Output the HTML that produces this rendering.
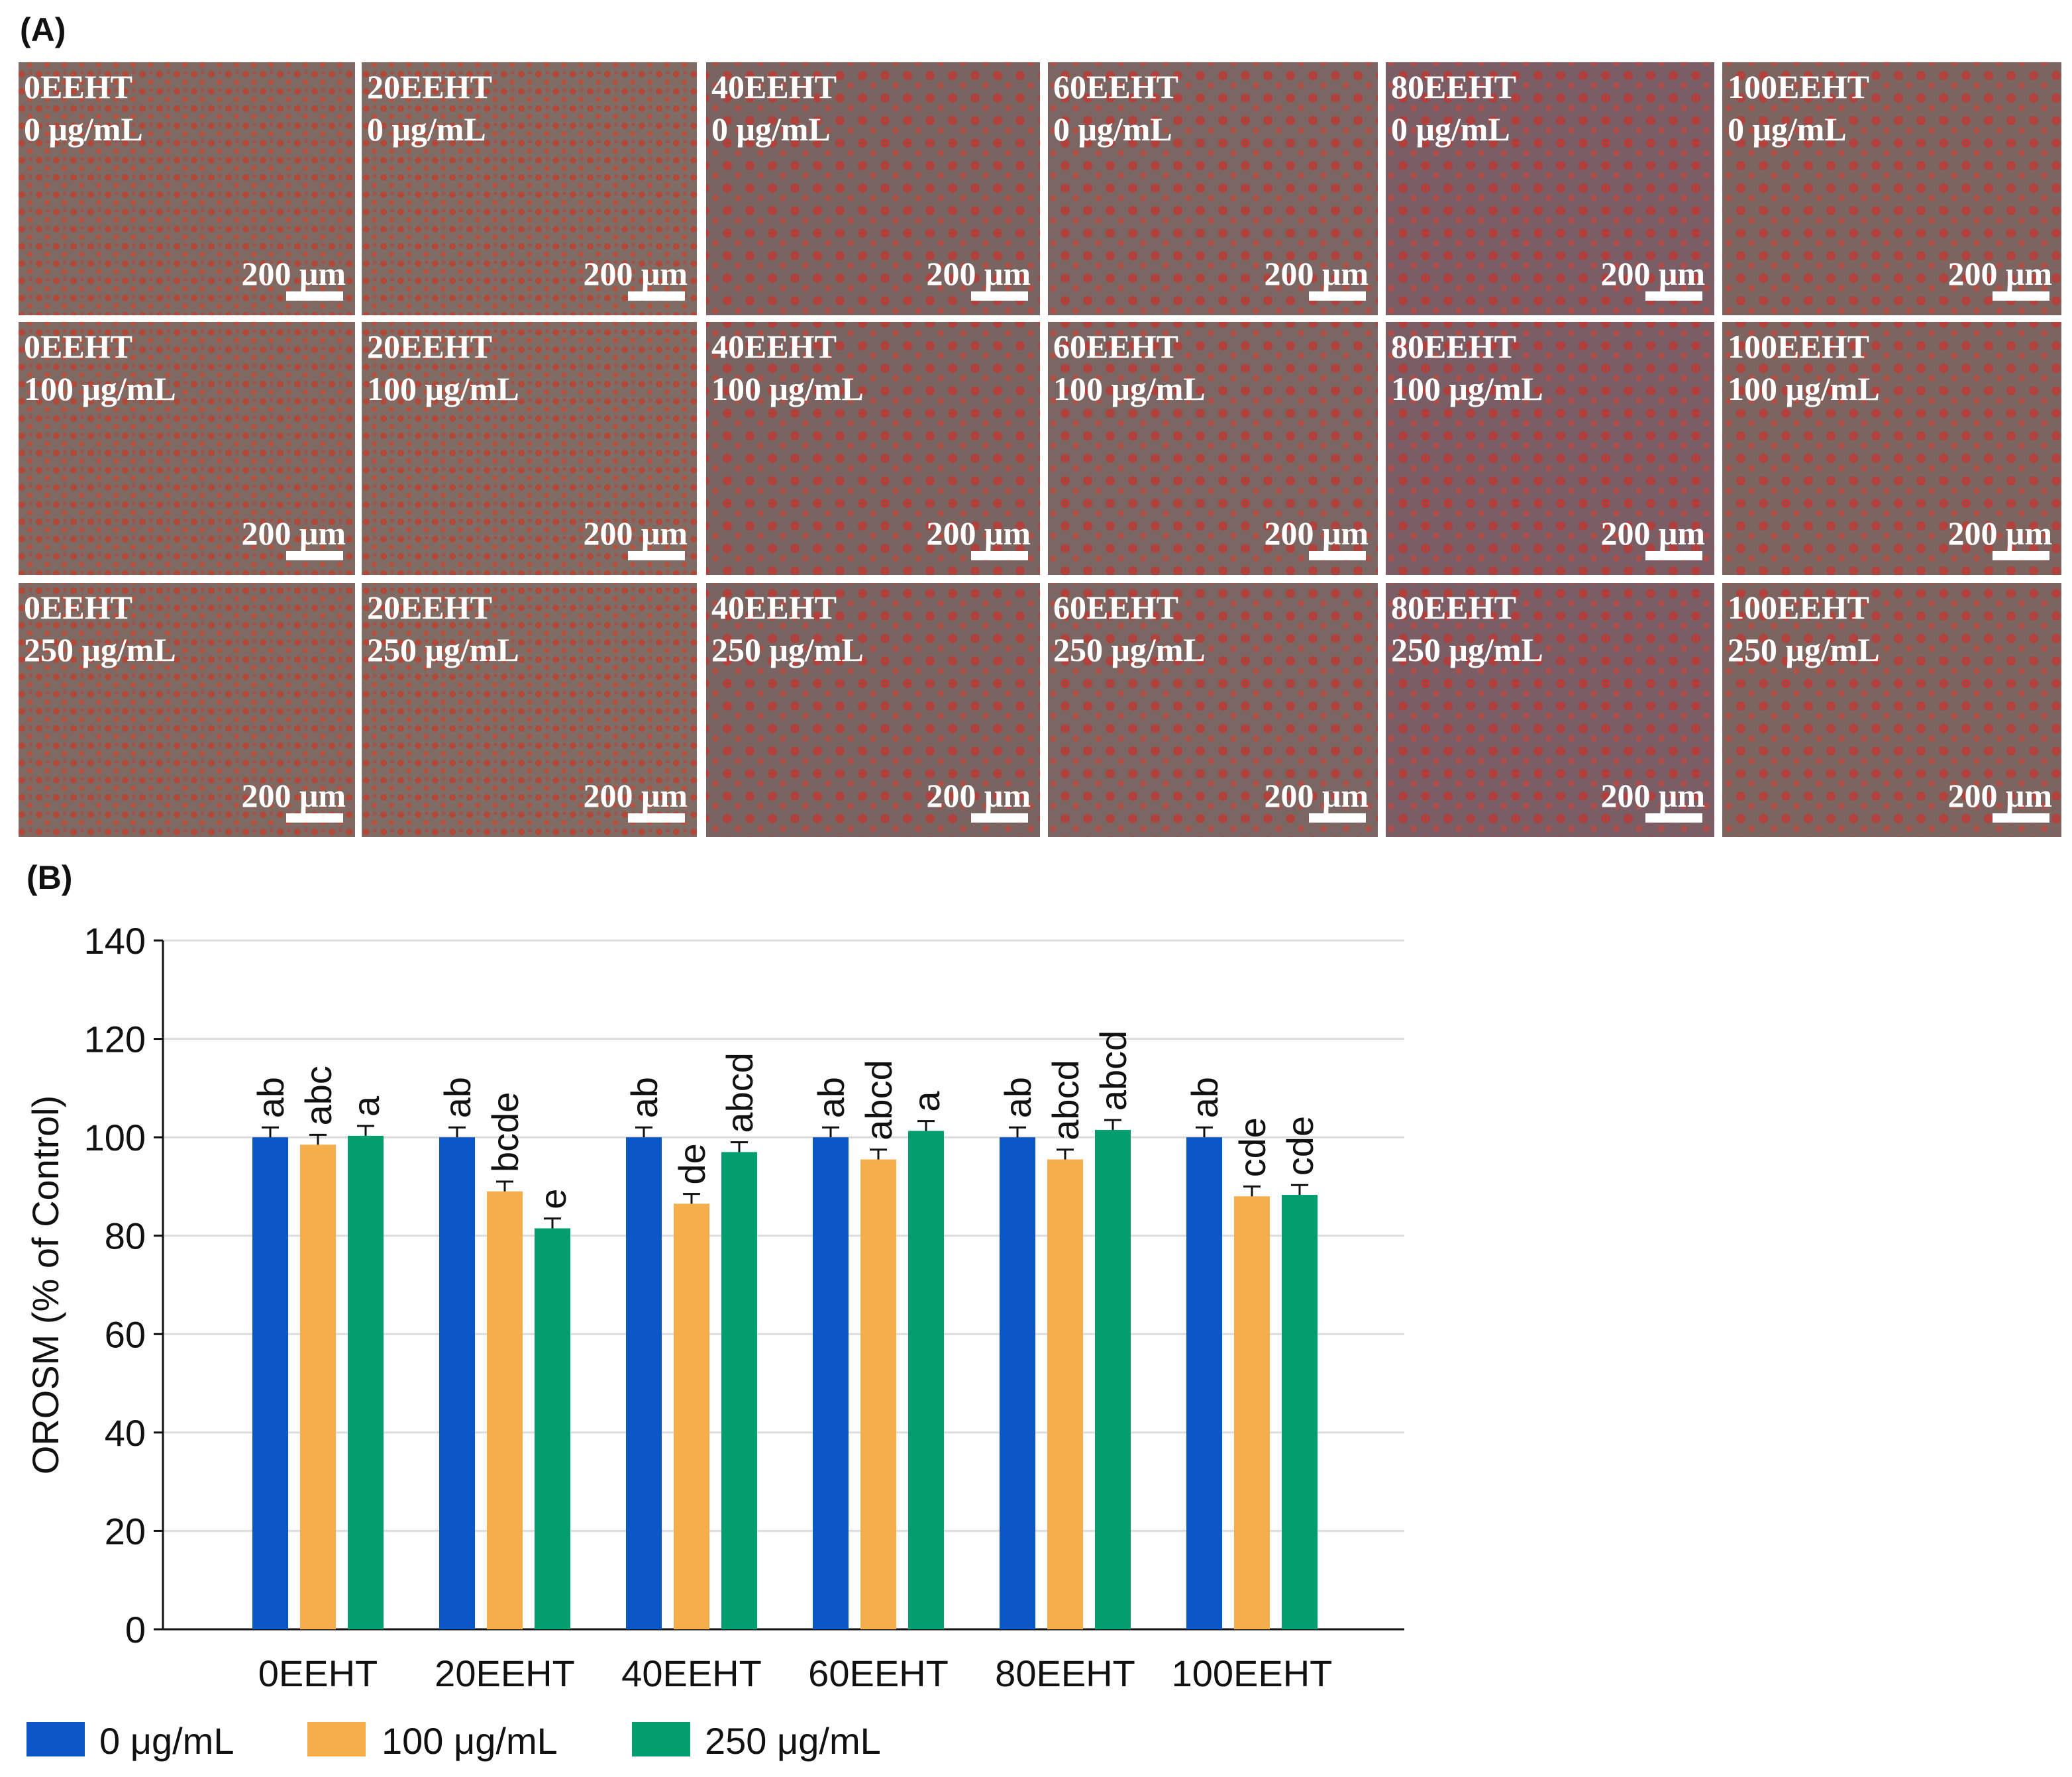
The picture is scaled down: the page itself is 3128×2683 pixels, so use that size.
<!DOCTYPE html>
<html><head><meta charset="utf-8">
<style>
html,body{margin:0;padding:0;background:#fff;}
svg{display:block;}
.pl{font-family:"Liberation Serif",serif;font-weight:bold;fill:#fff;font-size:50px;}
.ax{font-family:"Liberation Sans",sans-serif;font-size:56px;fill:#111;}
</style></head>
<body>
<svg id="fig" width="3128" height="2683" viewBox="0 0 3128 2683" xmlns="http://www.w3.org/2000/svg">
<defs>
<pattern id="cells" width="26" height="26" patternUnits="userSpaceOnUse">
<circle cx="7" cy="8" r="5" fill="#c23a2c" opacity="0.75"/>
<circle cx="19" cy="20" r="4" fill="#d0452f" opacity="0.7"/>
<circle cx="20" cy="6" r="3" fill="#b8453a" opacity="0.6"/>
</pattern>
<pattern id="cells2" width="34" height="34" patternUnits="userSpaceOnUse">
<circle cx="10" cy="12" r="7" fill="#c8332e" opacity="0.7"/>
<circle cx="26" cy="27" r="5" fill="#cf4237" opacity="0.6"/>
</pattern>
</defs>
<text x="30" y="62" font-family="Liberation Sans,sans-serif" font-weight="bold" font-size="50" fill="#111">(A)</text>
<g id="micro"></g>
<text x="40" y="1342" font-family="Liberation Sans,sans-serif" font-weight="bold" font-size="50" fill="#111">(B)</text>
<g id="chart"></g>
</svg>
<script>
const NS='http://www.w3.org/2000/svg';
function mk(tag,attrs,parent){const e=document.createElementNS(NS,tag);for(const k in attrs)e.setAttribute(k,attrs[k]);parent.appendChild(e);return e;}

// ---- micrographs ----
const colNames=['0EEHT','20EEHT','40EEHT','60EEHT','80EEHT','100EEHT'];
const rowConc=['0 μg/mL','100 μg/mL','250 μg/mL'];
const colX=[[28,536],[546,1052],[1066,1570],[1582,2080],[2092,2588],[2600,3112]];
const rowY=[[94,476],[486,868],[880,1264]];
const colBg=['#7e6a62','#7f6c64','#786460','#7a6662','#7a5e66','#7c6460'];
const micro=document.getElementById('micro');
for(let r=0;r<3;r++){for(let c=0;c<6;c++){
  const g=mk('g',{},micro);
  
  
  const x=colX[c][0],w=colX[c][1]-colX[c][0],y=rowY[r][0],h=rowY[r][1]-rowY[r][0];
  mk('rect',{x:x,y:y,width:w,height:h,fill:colBg[c]},g);
  mk('rect',{x:x,y:y,width:w,height:h,fill:(c>=2?'url(#cells2)':'url(#cells)')},g);
  const t1=mk('text',{x:x+8,y:y+54,class:'pl'},g);t1.textContent=colNames[c];
  const t2=mk('text',{x:x+8,y:y+118,class:'pl'},g);t2.textContent=rowConc[r];
  const t3=mk('text',{x:x+w-14,y:y+h-46,class:'pl','text-anchor':'end','font-size':'44'},g);t3.textContent='200 μm';
  mk('rect',{x:x+w-104,y:y+h-36,width:86,height:14,fill:'#fff'},g);
}}

// ---- chart data ----
const groups=['0EEHT','20EEHT','40EEHT','60EEHT','80EEHT','100EEHT'];
const seriesNames=['0 μg/mL','100 μg/mL','250 μg/mL'];
const vals0=[100,100,100,100,100,100];
const vals100=[98.5,89,86.5,95.5,95.5,88];
const vals250=[100.3,81.5,97,101.3,101.5,88.3];
const err0=[2,2,2,2,2,2];
const err100=[2,2,2,2,2,2];
const err250=[2,2,2,2,2,2];
const let0=['ab','ab','ab','ab','ab','ab'];
const let100=['abc','bcde','de','abcd','abcd','cde'];
const let250=['a','e','abcd','a','abcd','cde'];
const yTicks=[0,20,40,60,80,100,120,140];
const colors=['#0b57c8','#f6ae4b','#029e6e'];

const chart=document.getElementById('chart');
const X0=246,X1=2120,Y0=2460,Y1=1420,YMAX=140;
const ys=v=>Y0-(v/YMAX)*(Y0-Y1);
const gx=i=>480+i*282;
const offs=[-72,0,72],BW=54;

yTicks.forEach(t=>{
  const y=ys(t);
  if(t>0){const gl=mk('line',{x1:X0,x2:X1,y1:y,y2:y,stroke:'#dcdcdc','stroke-width':3},chart);
    }
  mk('line',{x1:X0-14,x2:X0,y1:y,y2:y,stroke:'#111','stroke-width':3},chart);
  const tl=mk('text',{x:X0-26,y:y+20,class:'ax','text-anchor':'end'},chart);
  tl.textContent=t;
  
  
});
const ya=mk('line',{x1:X0,x2:X0,y1:Y1,y2:Y0,stroke:'#111','stroke-width':3},chart);

const xa=mk('line',{x1:X0,x2:X1,y1:Y0,y2:Y0,stroke:'#111','stroke-width':3},chart);

const yt=mk('text',{x:0,y:0,class:'ax','font-size':'60',transform:'translate(88,1940) rotate(-90)','text-anchor':'middle'},chart);
yt.textContent='OROSM (% of Control)';


const allVals=[vals0,vals100,vals250],allErr=[err0,err100,err250],allLet=[let0,let100,let250];
groups.forEach((g,i)=>{
  for(let s=0;s<3;s++){
    const v=allVals[s][i],e=allErr[s][i],cx=gx(i)+offs[s];
    const b=mk('rect',{x:cx-BW/2,y:ys(v),width:BW,height:Y0-ys(v),fill:colors[s]},chart);
    
    
    const yt2=ys(v+e);
    mk('line',{x1:cx,x2:cx,y1:ys(v),y2:yt2,stroke:'#111','stroke-width':3},chart);
    mk('line',{x1:cx-13,x2:cx+13,y1:yt2,y2:yt2,stroke:'#111','stroke-width':3},chart);
    const lt=mk('text',{x:0,y:0,class:'ax','font-size':'56',transform:'translate('+(cx+20)+','+(yt2-14)+') rotate(-90)'},chart);
    lt.textContent=allLet[s][i];
    
    
  }
  const xl=mk('text',{x:gx(i),y:2546,class:'ax','font-size':'60','text-anchor':'middle'},chart);
  xl.textContent=g;
  
  
});

const legX=[40,464,954],legTX=[150,576,1064];
seriesNames.forEach((n,s)=>{
  const lg=mk('g',{},chart);
  
  
  mk('rect',{x:legX[s],y:2600,width:88,height:52,fill:colors[s]},lg);
  const t=mk('text',{x:legTX[s],y:2648,class:'ax','font-size':'64'},lg);t.textContent=n;
});
</script>
</body></html>
